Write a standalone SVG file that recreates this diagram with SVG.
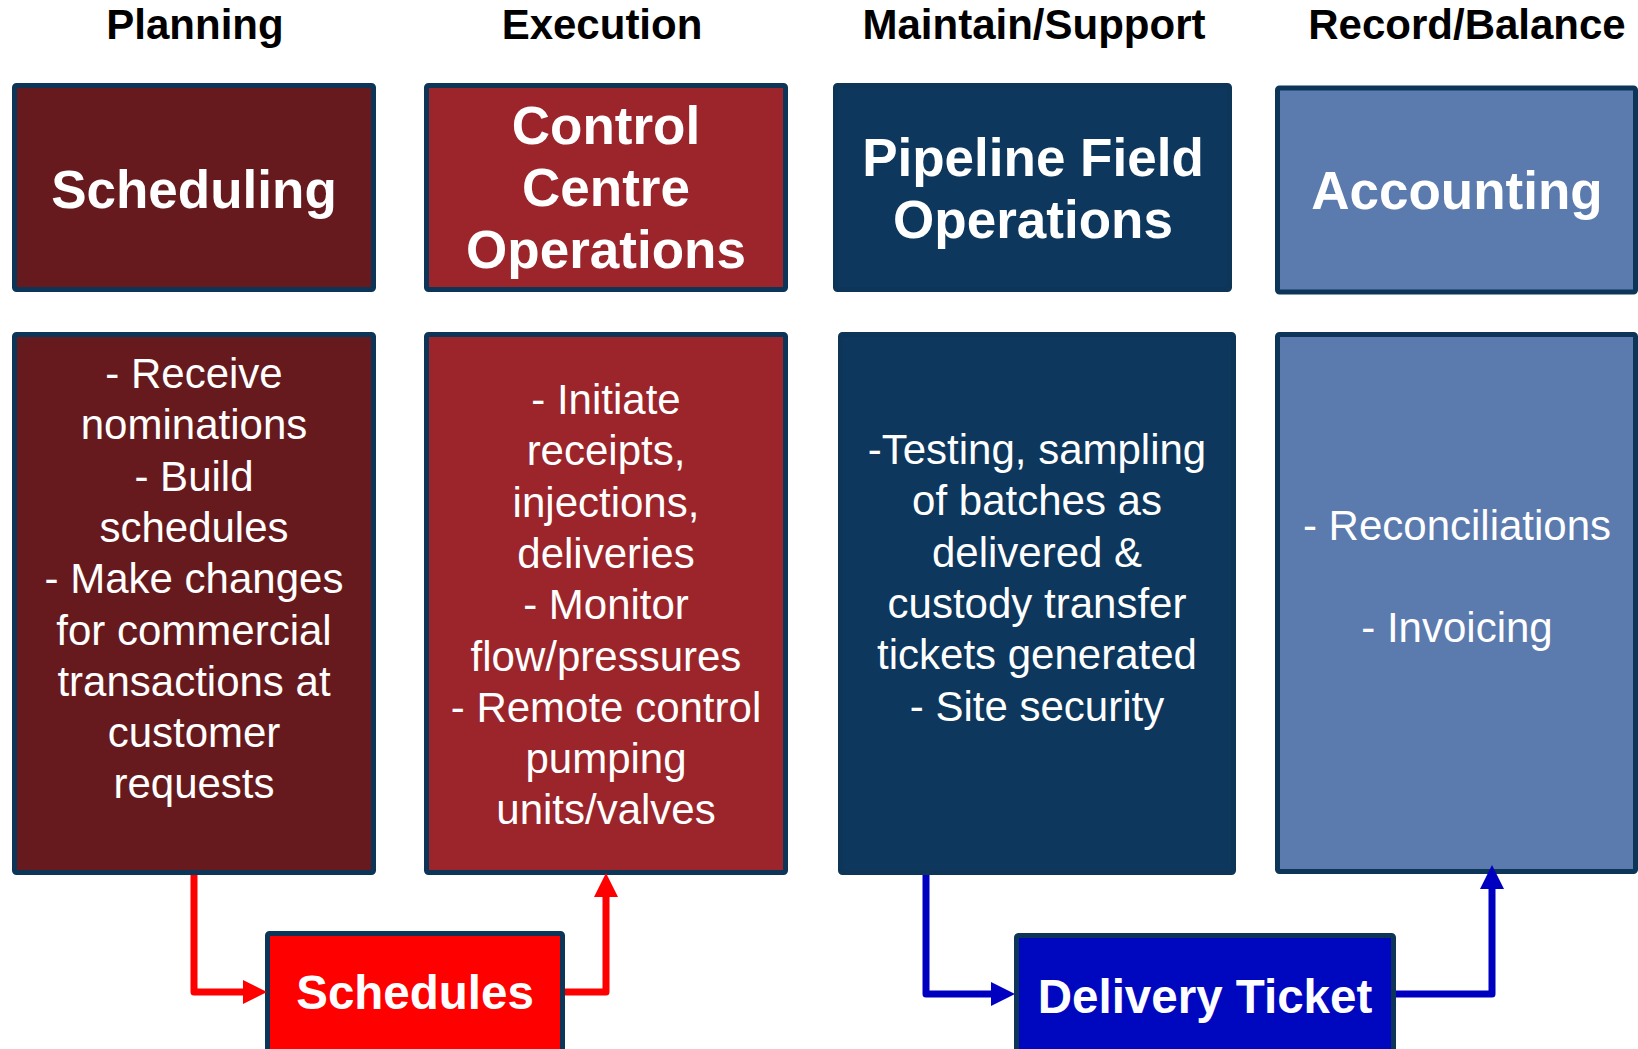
<svg xmlns="http://www.w3.org/2000/svg" width="1638" height="1049" viewBox="0 0 1638 1049">
<defs>
<style>
.box{stroke:#0c3558;stroke-width:5}
.hdr{font-family:"Liberation Sans",Arial,sans-serif;font-weight:bold;font-size:42px;fill:#000;text-anchor:middle}
.ttl{font-family:"Liberation Sans",Arial,sans-serif;font-weight:bold;font-size:53px;fill:#fff;text-anchor:middle}
.dsc{font-family:"Liberation Sans",Arial,sans-serif;font-size:42px;fill:#fff;text-anchor:middle}
.out{font-family:"Liberation Sans",Arial,sans-serif;font-weight:bold;font-size:47.5px;fill:#fff;text-anchor:middle}
.red{fill:none;stroke:#ff0000;stroke-width:7;stroke-linejoin:round}
.blue{fill:none;stroke:#0000c0;stroke-width:7;stroke-linejoin:round}
</style>
<marker id="ahRed" markerUnits="userSpaceOnUse" viewBox="0 0 24 24" refX="0" refY="12" markerWidth="24" markerHeight="24" orient="auto"><path d="M0,0 L24,12 L0,24 Z" fill="#ff0000"/></marker>
<marker id="ahBlue" markerUnits="userSpaceOnUse" viewBox="0 0 24 24" refX="0" refY="12" markerWidth="24" markerHeight="24" orient="auto"><path d="M0,0 L24,12 L0,24 Z" fill="#0000c0"/></marker>
</defs>
<rect width="1638" height="1049" fill="#fff"/>
<g id="headers">
<text class="hdr" x="195" y="39">Planning</text>
<text class="hdr" x="602" y="39">Execution</text>
<text class="hdr" x="1034" y="39">Maintain/Support</text>
<text class="hdr" x="1467" y="39">Record/Balance</text>
</g>
<g id="scheduling">
<rect class="box" x="14.5" y="85.5" width="359" height="204" rx="2" fill="#671a1e"/>
<text class="ttl" x="194" y="208">Scheduling</text>
</g>
<g id="control-centre">
<rect class="box" x="426.5" y="85.5" width="359" height="204" rx="2" fill="#9b252b"/>
<text class="ttl" x="606" y="144">Control</text>
<text class="ttl" x="606" y="206">Centre</text>
<text class="ttl" x="606" y="268">Operations</text>
</g>
<g id="pipeline-field">
<rect class="box" x="835.5" y="85.5" width="394" height="204" rx="2" fill="#0d375d" stroke="#0d375d"/>
<text class="ttl" x="1033" y="176">Pipeline Field</text>
<text class="ttl" x="1033" y="238">Operations</text>
</g>
<g id="accounting">
<rect class="box" x="1277.5" y="88" width="358" height="204" rx="2" fill="#5b7aae"/>
<text class="ttl" x="1457" y="209">Accounting</text>
</g>
<g id="scheduling-tasks">
<rect class="box" x="14.5" y="334.5" width="359" height="538" rx="2" fill="#671a1e"/>
<text class="dsc" x="194" y="388">- Receive</text>
<text class="dsc" x="194" y="439.3">nominations</text>
<text class="dsc" x="194" y="490.6">- Build</text>
<text class="dsc" x="194" y="541.9">schedules</text>
<text class="dsc" x="194" y="593.2">- Make changes</text>
<text class="dsc" x="194" y="644.5">for commercial</text>
<text class="dsc" x="194" y="695.8">transactions at</text>
<text class="dsc" x="194" y="747.1">customer</text>
<text class="dsc" x="194" y="798.4">requests</text>
</g>
<g id="control-tasks">
<rect class="box" x="426.5" y="334.5" width="359" height="538" rx="2" fill="#9b252b"/>
<text class="dsc" x="606" y="414">- Initiate</text>
<text class="dsc" x="606" y="465.3">receipts,</text>
<text class="dsc" x="606" y="516.6">injections,</text>
<text class="dsc" x="606" y="567.9">deliveries</text>
<text class="dsc" x="606" y="619.2">- Monitor</text>
<text class="dsc" x="606" y="670.5">flow/pressures</text>
<text class="dsc" x="606" y="721.8">- Remote control</text>
<text class="dsc" x="606" y="773.1">pumping</text>
<text class="dsc" x="606" y="824.4">units/valves</text>
</g>
<g id="field-tasks">
<rect class="box" x="840.5" y="334.5" width="393" height="538" rx="2" fill="#0d375d" stroke="#0d375d"/>
<text class="dsc" x="1037" y="464">-Testing, sampling</text>
<text class="dsc" x="1037" y="515.3">of batches as</text>
<text class="dsc" x="1037" y="566.6">delivered &amp;</text>
<text class="dsc" x="1037" y="617.9">custody transfer</text>
<text class="dsc" x="1037" y="669.2">tickets generated</text>
<text class="dsc" x="1037" y="720.5">- Site security</text>
</g>
<g id="accounting-tasks">
<rect class="box" x="1277.5" y="334.5" width="358" height="537" rx="2" fill="#5b7aae"/>
<text class="dsc" x="1457" y="540">- Reconciliations</text>
<text class="dsc" x="1457" y="642">- Invoicing</text>
</g>
<g id="schedules">
<rect class="box" x="267.5" y="933.5" width="295" height="130" rx="2" fill="#ff0000"/>
<text class="out" x="415" y="1009">Schedules</text>
</g>
<g id="delivery-ticket">
<rect class="box" x="1016.5" y="935.5" width="377" height="130" rx="2" fill="#0008bf"/>
<text class="out" x="1205" y="1013">Delivery Ticket</text>
</g>
<g id="connectors">
<path class="red" d="M194,875 V992 H243" marker-end="url(#ahRed)"/>
<path class="red" d="M565,992 H606 V897" marker-end="url(#ahRed)"/>
<path class="blue" d="M926,875 V994 H991" marker-end="url(#ahBlue)"/>
<path class="blue" d="M1396,994 H1492 V889" marker-end="url(#ahBlue)"/>
</g>
</svg>
